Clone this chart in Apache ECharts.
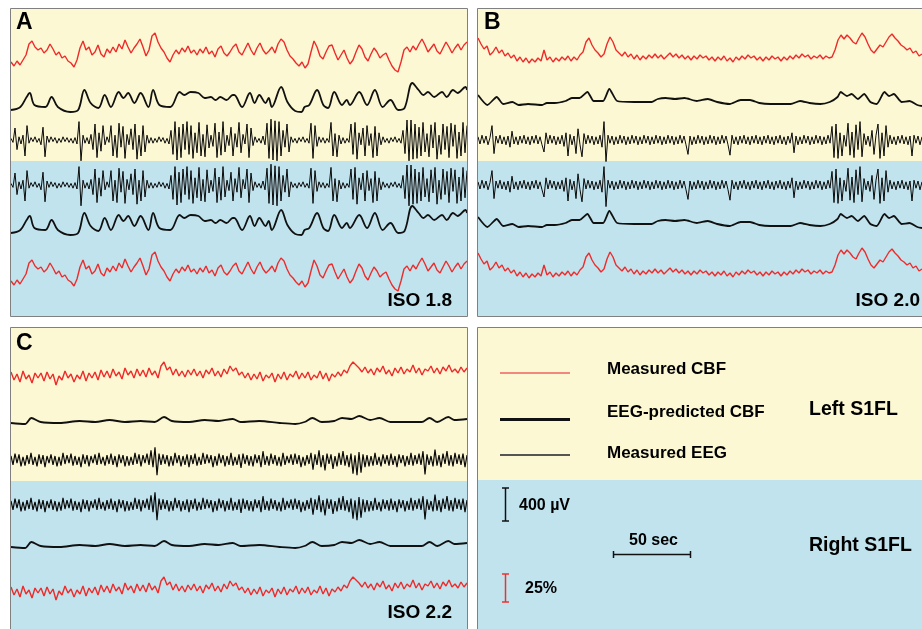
<!DOCTYPE html>
<html><head><meta charset="utf-8">
<script src="https://cdn.jsdelivr.net/npm/echarts@6/dist/echarts.min.js"></script>
<style>html,body{margin:0;padding:0;background:#fff}#c{width:922px;height:629px}</style>
</head><body><div id="c"></div>
<script>
// ---------- DATA ----------
// Panel durations (s)
const DUR_A = 292, DUR_B = 284, DUR_C = 292;

// Panel A (ISO 1.8) – measured CBF (% change, uniformly sampled)
const A_CBF = [13,9,14,10,15,20,31,34,28,25,27,22,25,31,26,20,23,17,19,14,
12,8,15,27,34,25,28,20,23,30,21,18,26,22,28,23,31,26,35,28,
22,27,31,36,28,19,25,39,42,33,27,23,17,13,20,25,21,27,23,29,
22,25,20,26,22,28,21,24,18,26,29,22,19,23,28,31,23,20,26,32,
25,20,27,32,25,21,24,28,22,31,36,33,25,19,16,12,9,13,7,11,
23,34,28,19,16,23,29,30,22,15,20,25,17,11,15,23,30,26,18,14,
21,27,23,17,20,22,15,9,5,3,13,25,28,23,29,25,31,36,30,23,
27,31,24,21,27,33,28,22,27,31,25,30,33];
// Panel A – EEG-predicted CBF (time s, value %)
const A_PRED_T = [0,6,10,12,15,22,26,30,38,43,47,51,56,60,64,69,72,75,79,83,88,91,95,102,108,111,115,120,124,128,131,134,138,142,143,148,153,156,159,163,165,167,173,177,182,186,188,191,196,200,203,207,212,215,217,223,228,233,238,243,248,252,257,261,264,267,271,276,279,283,286,291,292];
const A_PRED_V = [5,8,18,22,10,8,18,8,3,5,25,12,7,20,8,23,17,22,12,22,8,25,10,8,23,20,23,22,17,18,15,18,15,20,20,8,22,12,20,12,17,8,28,13,4,3,8,10,25,10,7,23,10,15,10,23,10,25,8,15,5,7,32,25,20,23,18,23,18,25,22,28,25];
// Panel A – measured EEG (µV, uniformly sampled)
const A_EEG = [20,-30,150,-120,40,-50,60,-200,180,-40,
30,-20,40,-30,20,-60,160,-210,50,-30,
40,-20,30,-40,20,-30,40,-20,30,-30,
20,-40,30,-50,230,-260,60,-40,30,-50,
70,-120,200,-220,90,-140,180,-60,40,-30,
180,-200,60,-220,210,-90,170,-230,70,-60,
140,-120,200,-240,60,-200,180,-150,60,-40,
30,-40,20,-30,40,-20,30,-40,20,-50,
120,-180,230,-250,160,-220,200,-120,230,-180,
180,-230,90,-160,220,-200,70,-210,190,-100,
60,-80,210,-220,100,-190,230,-150,60,-70,
160,-200,80,-90,220,-160,70,-50,200,-220,
150,-70,40,-30,20,-40,50,-60,210,-230,
260,-250,240,-260,230,-200,120,-90,200,-150,
40,-30,20,-40,30,-20,40,-30,20,-40,
210,-230,180,-80,40,-30,30,-40,20,-30,
220,-200,80,-210,60,-50,30,-40,20,-30,
200,-180,220,-240,90,-60,150,-200,180,-70,
80,-220,170,-200,90,-60,40,-30,20,-40,
30,-20,40,-30,20,-40,120,-170,250,-260,
250,-240,200,-230,160,-200,220,-150,80,-210,
190,-100,220,-240,60,-180,200,-120,170,-220,
210,-80,190,-230,100,-200,220,-160,180];

// Panel B (ISO 2.0)
const B_CBF = [32,26,21,24,15,18,23,17,20,14,17,12,15,9,13,8,12,7,11,8,
12,9,20,10,13,8,12,9,13,10,14,9,13,10,15,18,28,32,25,20,
17,13,16,26,33,28,20,17,14,18,13,16,11,15,10,14,11,15,12,16,
12,15,11,14,17,13,16,12,15,11,14,10,14,11,15,12,14,10,13,9,
13,10,14,9,12,8,13,10,14,11,15,12,14,10,13,9,13,10,14,11,
13,9,13,10,14,11,15,12,16,13,15,11,14,12,15,11,14,12,13,20,
30,35,31,35,32,28,26,32,37,33,26,20,17,21,25,23,28,33,36,32,
29,25,23,20,22,17,19,14,16];
const B_PRED_T = [0,6,12,16,22,26,32,41,44,49,56,60,65,70,74,80,84,89,100,111,115,120,126,132,140,147,153,161,168,174,180,187,200,206,212,219,225,230,232,236,239,243,247,251,255,260,263,266,271,276,281,284];
const B_PRED_V = [15,5,13,6,8,5,6,5,7,7,9,12,12,18,9,9,21,9,8,8,11,12,11,12,9,11,8,6,10,10,7,6,6,9,7,6,8,13,18,14,16,11,16,8,6,18,14,16,8,9,5,4];
const B_EEG = [40,-50,60,-40,50,-60,30,180,-170,50,
-40,60,-50,40,-60,50,-90,110,-50,40,
-60,50,-40,60,-50,40,-60,50,-40,60,
-50,40,-60,-150,90,-50,60,-40,50,-60,
40,-50,60,-80,90,-200,70,-60,50,-170,
140,-60,-210,80,-50,60,-40,50,-60,40,
-50,60,-90,230,-270,60,-40,50,-60,40,
-50,60,-40,50,-60,40,-50,60,-40,50,
-60,40,-50,60,-40,50,-60,40,-50,60,
-40,50,-60,40,-50,60,-40,50,-60,40,
-50,60,-40,50,-60,-180,50,-60,40,-50,
60,-40,50,-60,40,-50,60,-40,50,-60,
40,-50,60,-40,50,-60,-190,60,-50,40,
-60,50,-40,60,-50,40,-60,50,-40,60,
-50,40,-60,50,-40,60,-50,40,-60,50,
-40,60,-50,40,-60,50,-40,90,-160,50,
-60,40,-50,60,-40,50,-60,40,-50,60,
-40,50,-60,40,-50,60,-40,170,-220,200,
-230,90,-200,60,-80,210,-190,100,-220,190,
-120,230,-210,80,-60,50,-80,120,-180,60,
200,-230,90,-200,180,-90,60,-50,40,-60,
50,-40,60,-50,40,-60,50,-200,60,-40,
50,-60,40];

// Panel C (ISO 2.2)
const C_CBF = [18,10,16,8,19,11,15,7,17,12,17,9,18,11,16,5,14,10,19,12,
16,8,15,11,19,9,17,12,18,10,20,13,19,12,21,14,18,11,22,15,
19,12,21,14,20,13,22,15,19,12,24,28,20,23,15,21,14,19,13,20,
15,21,14,19,12,20,16,22,14,19,13,21,16,24,19,22,15,18,12,17,
10,16,11,18,9,15,12,17,8,16,11,18,10,16,13,19,11,17,12,18,
10,15,12,19,11,17,9,16,13,18,14,20,17,24,28,25,22,18,23,17,
21,15,22,18,24,16,20,14,22,17,23,16,21,18,25,17,22,15,21,19,
24,17,22,16,23,19,25,18,21,17,23,18,22];
const C_PRED_T = [0,9,13,19,31,44,54,63,73,83,92,98,103,114,124,133,142,147,159,172,182,188,193,199,207,212,218,223,230,236,243,255,263,268,273,280,284,292];
const C_PRED_V = [7,6,12,8,7,9,8,10,8,9,8,13,9,8,10,9,11,8,9,7,6,8,12,8,9,12,11,14,10,12,8,8,8,12,8,13,10,11];
const C_EEG = [50,-60,80,-40,70,-80,40,-70,60,-50,
90,-60,40,-80,70,-50,60,-90,50,-40,
70,-60,50,-80,40,-70,90,-50,60,-40,
80,-70,50,-60,40,-90,70,-50,60,-80,
50,-40,70,-60,90,-50,40,-70,60,-50,
80,-60,50,-90,70,-40,60,-80,50,-70,
40,-60,90,-50,70,-80,60,-40,80,-60,
120,-90,160,-190,80,-60,70,-50,60,-80,
50,-70,90,-40,60,-80,50,-60,70,-90,
60,-50,80,-70,40,-60,90,-50,70,-40,
60,-90,50,-70,80,-40,60,-80,50,-60,
90,-70,40,-60,70,-100,80,-50,60,-70,
50,-80,70,-40,60,-90,110,-60,50,-70,
80,-50,60,-70,40,-80,90,-60,50,-40,
70,-60,80,-50,60,-90,40,-70,60,-50,
90,-120,70,-60,120,-90,60,-130,80,-50,
70,-110,50,-80,90,-60,110,-70,60,-90,
80,-170,60,-190,100,-160,70,-90,60,-80,
50,-70,90,-60,40,-80,70,-50,60,-70,
80,-60,50,-90,70,-40,60,-80,50,-60,
90,-70,60,-50,80,-60,110,-180,70,-60,
50,-80,130,-70,60,-90,80,-50,110,-70,
60,-80,90,-50,70,-60,80,-90,60];

// Legend / labels
const PANEL_LABELS = ['A','B','C'];
const ISO_LABELS = ['ISO 1.8','ISO 2.0','ISO 2.2'];
const LEGEND_LABELS = ['Measured CBF','EEG-predicted CBF','Measured EEG'];
const SIDE_LABELS = ['Left S1FL','Right S1FL'];
const SCALE_LABELS = ['400 µV','50 sec','25%'];

// ---------- STYLE ----------
const RED = '#ee2b2b', BLK = '#111', EEGC = '#0a0a0a';
const YEL = '#fcf8d3', BLU = '#c0e3ee', BORDER = '#808080';
const FONT = '"Liberation Sans", Arial, Helvetica, sans-serif';

const grids=[], xAxes=[], yAxes=[], series=[];
function uniform(vals, dur){ const dt = dur/(vals.length-1); return vals.map((v,i)=>[i*dt, v]); }
function pairs(t, v){ return t.map((x,i)=>[x, v[i]]); }
function addTrace(left, width, dur, base, ppu, vmin, vmax, pts, color, lw, smooth){
  const i = grids.length;
  grids.push({left:left, width:width, top: base - vmax*ppu, height:(vmax-vmin)*ppu, show:false});
  xAxes.push({type:'value', gridIndex:i, min:0, max:dur, show:false});
  yAxes.push({type:'value', gridIndex:i, min:vmin, max:vmax, show:false});
  series.push({type:'line', xAxisIndex:i, yAxisIndex:i, data:pts, showSymbol:false, symbol:'none',
    smooth: smooth||false, lineStyle:{color:color, width:lw}, silent:true, animation:false, z:5, clip:false});
}
const EPP = 0.08; // px per µV
// Panel A
addTrace(11,456,DUR_A, 75, 1, 0, 50, uniform(A_CBF,DUR_A), RED, 1.4);
addTrace(11,456,DUR_A, 115, 1, 0, 40, pairs(A_PRED_T,A_PRED_V), BLK, 1.8, 0.35);
addTrace(11,456,DUR_A, 140, EPP, -320, 320, uniform(A_EEG,DUR_A), EEGC, 1.0);
addTrace(11,456,DUR_A, 185, EPP, -320, 320, uniform(A_EEG,DUR_A), EEGC, 1.0);
addTrace(11,456,DUR_A, 238, 1, 0, 40, pairs(A_PRED_T,A_PRED_V), BLK, 1.8, 0.35);
addTrace(11,456,DUR_A, 294, 1, 0, 50, uniform(A_CBF,DUR_A), RED, 1.4);
// Panel B
addTrace(478,444,DUR_B, 70, 1, 0, 45, uniform(B_CBF,DUR_B), RED, 1.4);
addTrace(478,444,DUR_B, 110, 1, 0, 30, pairs(B_PRED_T,B_PRED_V), BLK, 1.8, 0.2);
addTrace(478,444,DUR_B, 140, EPP, -320, 320, uniform(B_EEG,DUR_B), EEGC, 1.0);
addTrace(478,444,DUR_B, 185, EPP, -320, 320, uniform(B_EEG,DUR_B), EEGC, 1.0);
addTrace(478,444,DUR_B, 232, 1, 0, 30, pairs(B_PRED_T,B_PRED_V), BLK, 1.8, 0.2);
addTrace(478,444,DUR_B, 285, 1, 0, 45, uniform(B_CBF,DUR_B), RED, 1.4);
// Panel C
addTrace(11,456,DUR_C, 390, 1, 0, 35, uniform(C_CBF,DUR_C), RED, 1.4);
addTrace(11,456,DUR_C, 430, 1, 0, 20, pairs(C_PRED_T,C_PRED_V), BLK, 1.8, 0.3);
addTrace(11,456,DUR_C, 460, EPP, -320, 320, uniform(C_EEG,DUR_C), EEGC, 1.2);
addTrace(11,456,DUR_C, 505, EPP, -320, 320, uniform(C_EEG,DUR_C), EEGC, 1.2);
addTrace(11,456,DUR_C, 554, 1, 0, 20, pairs(C_PRED_T,C_PRED_V), BLK, 1.8, 0.3);
addTrace(11,456,DUR_C, 605, 1, 0, 35, uniform(C_CBF,DUR_C), RED, 1.4);

// ---------- GRAPHICS ----------
function rect(x,y,w,h,fill){ return {type:'rect', shape:{x:x,y:y,width:w,height:h}, style:{fill:fill}, z:0, silent:true}; }
function frame(x,y,w,h){ return {type:'rect', shape:{x:x+0.5,y:y+0.5,width:w,height:h}, style:{fill:'none', stroke:BORDER, lineWidth:1}, z:100, silent:true}; }
function txt(s,x,y,size,align){ return {type:'text', x:x, y:y, style:{text:s, font:'bold '+size+'px '+FONT, fill:'#000', textAlign:align||'left', verticalAlign:'middle'}, z:100, silent:true}; }
function line(x1,y1,x2,y2,color,w){ return {type:'line', shape:{x1:x1,y1:y1,x2:x2,y2:y2}, style:{stroke:color, lineWidth:w}, z:100, silent:true}; }
function ibar(x,y1,y2,color){ return [line(x,y1,x,y2,color,1.5), line(x-3.5,y1,x+3.5,y1,color,1.5), line(x-3.5,y2,x+3.5,y2,color,1.5)]; }

const graphics = [
  rect(10,8,457,153,YEL), rect(10,161,457,155,BLU), frame(10,8,457,308),
  rect(477,8,450,153,YEL), rect(477,161,450,155,BLU), frame(477,8,460,308),
  rect(10,327,457,154,YEL), rect(10,481,457,160,BLU), frame(10,327,457,320),
  rect(477,327,450,153,YEL), rect(477,480,450,160,BLU), frame(477,327,460,320),
  txt(PANEL_LABELS[0],16,23,23), txt(PANEL_LABELS[1],484,23,23), txt(PANEL_LABELS[2],16,344,23),
  txt(ISO_LABELS[0],452,300.5,19,'right'), txt(ISO_LABELS[1],920,300.5,19,'right'), txt(ISO_LABELS[2],452,612.5,19,'right'),
  line(500,373,570,373,'#f06060',1.5), line(500,419.5,570,419.5,'#111',3), line(500,455,570,455,'#555',2),
  txt(LEGEND_LABELS[0],607,369,17), txt(LEGEND_LABELS[1],607,412,17), txt(LEGEND_LABELS[2],607,453.5,17),
  txt(SIDE_LABELS[0],809,410,19.5), txt(SIDE_LABELS[1],809,545.5,19.5),
  ...ibar(505.5,488,521,'#111'), ...ibar(505.5,574,602,'#f03030'),
  line(613,554.5,691,554.5,'#111',1.5), line(613.5,551,613.5,558,'#111',1.5), line(690.5,551,690.5,558,'#111',1.5),
  txt(SCALE_LABELS[0],519,505.5,16), txt(SCALE_LABELS[1],629,541,16), txt(SCALE_LABELS[2],525,588.5,16)
];

const chart = echarts.init(document.getElementById('c'), null, {renderer:'canvas'});
chart.setOption({
  backgroundColor:'#fff', animation:false,
  grid:grids, xAxis:xAxes, yAxis:yAxes, series:series,
  graphic:{elements:graphics}
});
</script></body></html>
